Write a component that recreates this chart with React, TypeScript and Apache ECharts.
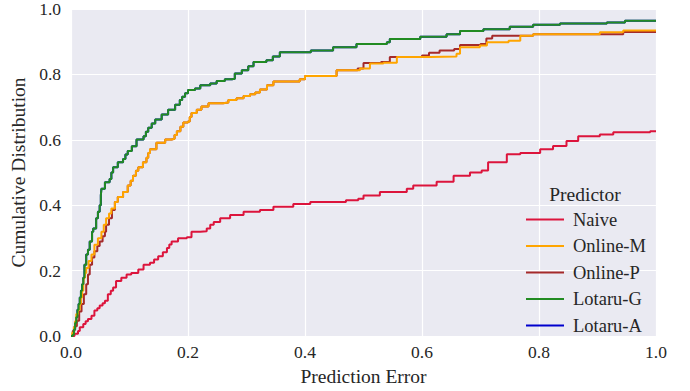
import React, { useEffect, useRef } from "react";
import * as echarts from "echarts";

const seriesNames = ["Naive", "Online-M", "Online-P", "Lotaru-G", "Lotaru-A"];

const naive: number[][] = [
  [0, 0], [0.006, 0.007], [0.012, 0.015], [0.015, 0.027], [0.021, 0.037], [0.025, 0.045],
  [0.029, 0.052], [0.035, 0.062], [0.04, 0.078], [0.045, 0.085], [0.049, 0.093], [0.054, 0.1],
  [0.058, 0.108], [0.063, 0.128], [0.068, 0.138], [0.072, 0.148], [0.077, 0.168], [0.086, 0.178],
  [0.095, 0.188], [0.103, 0.193], [0.115, 0.203], [0.124, 0.218], [0.135, 0.224], [0.142, 0.234],
  [0.149, 0.244], [0.157, 0.256], [0.164, 0.269], [0.168, 0.28], [0.172, 0.289], [0.183, 0.299],
  [0.198, 0.302], [0.206, 0.319], [0.221, 0.32], [0.232, 0.329], [0.238, 0.34], [0.244, 0.349],
  [0.255, 0.36], [0.272, 0.37], [0.295, 0.38], [0.323, 0.385], [0.346, 0.395], [0.38, 0.404],
  [0.409, 0.41], [0.47, 0.415], [0.491, 0.42], [0.5, 0.43], [0.528, 0.44], [0.574, 0.45],
  [0.585, 0.46], [0.625, 0.472], [0.654, 0.49], [0.682, 0.5], [0.702, 0.506], [0.713, 0.531],
  [0.745, 0.556], [0.768, 0.56], [0.802, 0.571], [0.824, 0.581], [0.847, 0.596], [0.867, 0.611],
  [0.904, 0.616], [0.927, 0.623], [0.99, 0.626], [1.0, 0.628],
];

const onlineM: number[][] = [
  [0, 0], [0.002, 0.01], [0.005, 0.027], [0.007, 0.045], [0.009, 0.067], [0.012, 0.08],
  [0.015, 0.098], [0.017, 0.118], [0.019, 0.138], [0.021, 0.158], [0.022, 0.178], [0.024, 0.193],
  [0.026, 0.208], [0.03, 0.229], [0.035, 0.249], [0.04, 0.279], [0.046, 0.299], [0.052, 0.319],
  [0.056, 0.34], [0.06, 0.36], [0.065, 0.375], [0.069, 0.39], [0.075, 0.41], [0.08, 0.425],
  [0.089, 0.44], [0.097, 0.46], [0.102, 0.475], [0.106, 0.49], [0.111, 0.505], [0.115, 0.516],
  [0.123, 0.531], [0.129, 0.545], [0.132, 0.56], [0.135, 0.571], [0.146, 0.591], [0.161, 0.601],
  [0.172, 0.603], [0.177, 0.615], [0.181, 0.626], [0.187, 0.64], [0.192, 0.653], [0.2, 0.656],
  [0.203, 0.67], [0.206, 0.682], [0.215, 0.692], [0.223, 0.702], [0.235, 0.712], [0.26, 0.714],
  [0.269, 0.722], [0.283, 0.727], [0.295, 0.734], [0.306, 0.739], [0.315, 0.745], [0.323, 0.754],
  [0.335, 0.767], [0.346, 0.778], [0.391, 0.785], [0.4, 0.795], [0.443, 0.795], [0.454, 0.813],
  [0.494, 0.818], [0.511, 0.833], [0.534, 0.836], [0.557, 0.853], [0.614, 0.855], [0.659, 0.863],
  [0.665, 0.883], [0.699, 0.888], [0.711, 0.898], [0.748, 0.903], [0.768, 0.918], [0.79, 0.923],
  [0.904, 0.929], [0.944, 0.934], [1.0, 0.934],
];

const onlineP: number[][] = [
  [0, 0], [0.003, 0.015], [0.006, 0.03], [0.01, 0.047], [0.014, 0.075], [0.018, 0.098],
  [0.022, 0.128], [0.026, 0.158], [0.029, 0.188], [0.032, 0.218], [0.036, 0.24], [0.04, 0.259],
  [0.045, 0.275], [0.049, 0.289], [0.054, 0.305], [0.058, 0.319], [0.06, 0.34], [0.065, 0.36],
  [0.07, 0.385], [0.075, 0.41], [0.08, 0.425], [0.089, 0.44], [0.097, 0.46], [0.102, 0.475],
  [0.106, 0.49], [0.111, 0.505], [0.115, 0.516], [0.123, 0.531], [0.129, 0.545], [0.132, 0.56],
  [0.135, 0.571], [0.146, 0.591], [0.161, 0.601], [0.172, 0.603], [0.177, 0.615], [0.181, 0.626],
  [0.187, 0.64], [0.192, 0.653], [0.2, 0.656], [0.203, 0.67], [0.206, 0.682], [0.215, 0.692],
  [0.223, 0.702], [0.235, 0.712], [0.26, 0.714], [0.269, 0.722], [0.283, 0.727], [0.295, 0.734],
  [0.306, 0.739], [0.315, 0.745], [0.323, 0.754], [0.335, 0.767], [0.346, 0.778], [0.391, 0.785],
  [0.4, 0.795], [0.443, 0.795], [0.454, 0.813], [0.49, 0.818], [0.5, 0.835], [0.53, 0.838],
  [0.545, 0.853], [0.6, 0.858], [0.612, 0.866], [0.63, 0.873], [0.655, 0.878], [0.665, 0.89],
  [0.7, 0.893], [0.71, 0.91], [0.72, 0.918], [0.79, 0.923], [0.944, 0.93], [1.0, 0.932],
];

const lotaruG: number[][] = [
  [0, 0], [0.003, 0.004], [0.005, 0.02], [0.007, 0.04], [0.009, 0.057], [0.011, 0.08],
  [0.013, 0.098], [0.015, 0.118], [0.017, 0.138], [0.019, 0.158], [0.021, 0.178], [0.023, 0.218],
  [0.026, 0.249], [0.029, 0.264], [0.032, 0.289], [0.036, 0.319], [0.038, 0.329], [0.043, 0.36],
  [0.046, 0.38], [0.049, 0.4], [0.051, 0.43], [0.052, 0.45], [0.058, 0.47], [0.066, 0.48],
  [0.069, 0.5], [0.072, 0.516], [0.08, 0.531], [0.089, 0.541], [0.093, 0.555], [0.097, 0.566],
  [0.104, 0.58], [0.112, 0.601], [0.124, 0.611], [0.128, 0.625], [0.132, 0.637], [0.138, 0.65],
  [0.144, 0.662], [0.155, 0.677], [0.166, 0.692], [0.178, 0.707], [0.186, 0.722], [0.19, 0.732],
  [0.195, 0.742], [0.2, 0.752], [0.212, 0.757], [0.221, 0.767], [0.238, 0.772], [0.249, 0.78],
  [0.263, 0.785], [0.275, 0.787], [0.28, 0.803], [0.292, 0.813], [0.303, 0.825], [0.312, 0.838],
  [0.334, 0.843], [0.345, 0.855], [0.357, 0.868], [0.41, 0.873], [0.448, 0.883], [0.488, 0.893],
  [0.54, 0.898], [0.545, 0.908], [0.597, 0.915], [0.642, 0.923], [0.665, 0.933], [0.705, 0.938],
  [0.75, 0.946], [0.79, 0.952], [0.836, 0.956], [0.916, 0.959], [0.947, 0.964], [1.0, 0.964],
];

// Lotaru-A lies hidden underneath Lotaru-G in the reference
const lotaruA: number[][] = lotaruG.map((p) => [p[0], p[1]]);

const colors: Record<string, string> = {
  "Naive": "#DC143C",
  "Online-M": "#FFA500",
  "Online-P": "#A52A2A",
  "Lotaru-G": "#228B22",
  "Lotaru-A": "#0000CD",
};

const FONT = "Liberation Serif";
const TXT = "#262626";

export default function App() {
  const ref = useRef<HTMLDivElement>(null);
  useEffect(() => {
    if (!ref.current) return;
    const chart = echarts.init(ref.current, undefined, { renderer: "svg" });
    const mk = (name: string, data: number[][]) => ({
      name,
      type: "line",
      step: "end",
      data,
      showSymbol: false,
      symbol: "none",
      lineStyle: { color: colors[name], width: 2 },
      itemStyle: { color: colors[name] },
    });
    chart.setOption({
      animation: false,
      textStyle: { fontFamily: FONT },
      title: {
        text: "Predictor",
        left: 580,
        top: 179,
        textAlign: "center",
        textStyle: { fontFamily: FONT, fontSize: 19.5, fontWeight: "normal", color: TXT, lineHeight: 20 },
      },
      legend: {
        data: seriesNames,
        orient: "vertical",
        left: 521,
        top: 205,
        itemWidth: 38,
        itemHeight: 2,
        itemGap: 7.5,
        icon: "rect",
        textStyle: { fontFamily: FONT, fontSize: 18.5, color: TXT, lineHeight: 18.5, padding: [0, 0, 0, 4] },
      },
      grid: {
        left: 71,
        right: 34,
        top: 8,
        bottom: 52,
        show: true,
        backgroundColor: "#EAEAF2",
        borderWidth: 0,
      },
      xAxis: {
        type: "value",
        min: 0,
        max: 1,
        interval: 0.2,
        name: "Prediction Error",
        nameLocation: "middle",
        nameGap: 30,
        nameTextStyle: { fontFamily: FONT, fontSize: 19.5, color: TXT },
        axisLine: { show: false },
        axisTick: { show: false },
        axisLabel: {
          fontFamily: FONT,
          fontSize: 17.5,
          color: TXT,
          margin: 7,
          formatter: (v: number) => v.toFixed(1),
        },
        splitLine: { show: true, lineStyle: { color: "#FFFFFF", width: 1.2 } },
      },
      yAxis: {
        type: "value",
        min: 0,
        max: 1,
        interval: 0.2,
        name: "Cumulative Distribution",
        nameLocation: "middle",
        nameGap: 36,
        nameTextStyle: { fontFamily: FONT, fontSize: 19.5, color: TXT },
        axisLine: { show: false },
        axisTick: { show: false },
        axisLabel: {
          fontFamily: FONT,
          fontSize: 17.5,
          color: TXT,
          margin: 10,
          formatter: (v: number) => v.toFixed(1),
        },
        splitLine: { show: true, lineStyle: { color: "#FFFFFF", width: 1.2 } },
      },
      series: [
        mk("Lotaru-A", lotaruA),
        mk("Naive", naive),
        mk("Online-P", onlineP),
        mk("Online-M", onlineM),
        mk("Lotaru-G", lotaruG),
      ],
    });
    return () => chart.dispose();
  }, []);
  return <div ref={ref} style={{ width: 690, height: 391, position: "absolute", left: 0, top: 0 }} />;
}
